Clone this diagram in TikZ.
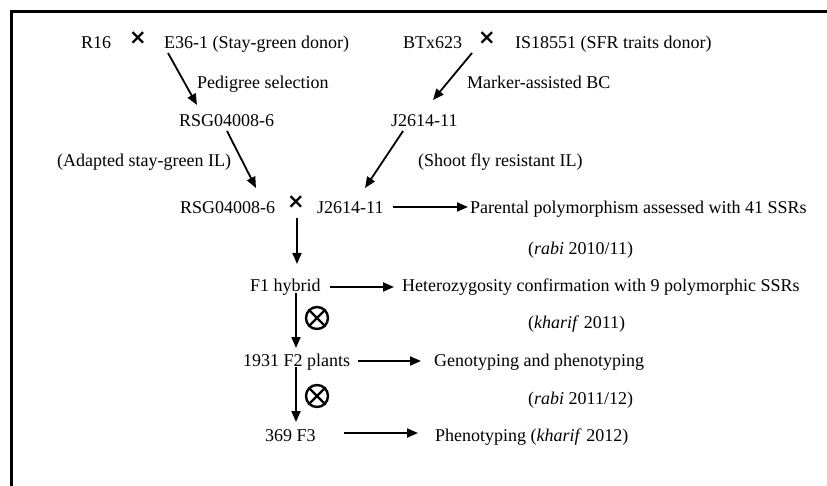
\documentclass[tikz,border=0pt]{standalone}
\usepackage{fontspec}
\setmainfont{Liberation Serif}
\newfontfamily\crossfont{DejaVu Sans}
\usetikzlibrary{arrows.meta}
\begin{document}
\begin{tikzpicture}[x=1pt,y=-1pt,
  txt/.style={anchor=base west, inner sep=0pt, font=\fontsize{18}{22}\selectfont},
  crossmark/.style={inner sep=0pt, font=\crossfont\bfseries\fontsize{21}{21}\selectfont},
  arr/.style={line width=1.8pt, -{Triangle[length=11pt,width=9pt]}},
  selfmark/.style={circle, draw, line width=2.4pt, minimum size=22pt, inner sep=0pt},
  frame/.style={line width=3pt}]
\useasboundingbox (0,0) rectangle (827,486);
\fill[white] (0,0) rectangle (827,486);
% frame
\coordinate (ftl) at (11,12);
\coordinate (ftr) at (827,12);
\coordinate (fbl) at (11,486);
\draw[frame] (ftr) -- (ftl) -- (fbl);
% row 1
\node[txt] (r16) at (81,48.5) {R16};
\node[crossmark] (x1) at (138,38) {×};
\node[txt] (e36) at (164,48.5) {E36-1 (Stay-green donor)};
\node[txt] (btx) at (403,48.5) {BTx623};
\node[crossmark] (x2) at (487,38) {×};
\node[txt] (is) at (515,48.5) {IS18551 (SFR traits donor)};
% row 2
\node[txt] (ped) at (197,88.5) {Pedigree selection};
\node[txt] (mab) at (467,88.5) {Marker-assisted BC};
% row 3
\node[txt] (rsg1) at (179,127) {RSG04008-6};
\node[txt] (j1) at (391,127) {J2614-11};
% row 4
\node[txt] (adap) at (57,166.5) {(Adapted stay-green IL)};
\node[txt] (sfr) at (418,166.5) {(Shoot fly resistant IL)};
% row 5
\node[txt] (rsg2) at (180,213.5) {RSG04008-6};
\node[crossmark] (x3) at (296,202) {×};
\node[txt] (j2) at (317,213.5) {J2614-11};
\node[txt] (poly) at (470,213.5) {Parental polymorphism assessed with 41 SSRs};
\node[txt] (s1) at (528,254.5) {(\textit{rabi} 2010/11)};
% F1
\node[txt] (f1) at (250,291.5) {F1 hybrid};
\node[txt] (het) at (402,291.5) {Heterozygosity confirmation with 9 polymorphic SSRs};
\node[txt] (s2) at (528,328.5) {(\textit{kharif} 2011)};
% F2
\node[txt] (f2) at (243,366.5) {1931 F2 plants};
\node[txt] (geno) at (434,366.5) {Genotyping and phenotyping};
\node[txt] (s3) at (528,404.5) {(\textit{rabi} 2011/12)};
% F3
\node[txt] (f3) at (265,441) {369 F3};
\node[txt] (pheno) at (435,441) {Phenotyping (\textit{kharif} 2012)};
% selfing marks
\node[selfmark] (o1) at (317,318) {};
\draw[line width=2.4pt] (o1.north west) -- (o1.south east) (o1.north east) -- (o1.south west);
\node[selfmark] (o2) at (317,396) {};
\draw[line width=2.4pt] (o2.north west) -- (o2.south east) (o2.north east) -- (o2.south west);
% arrow end points
\coordinate (a1s) at (168,53);  \coordinate (a1e) at (197,105);
\coordinate (a2s) at (472,53);  \coordinate (a2e) at (433,100);
\coordinate (a3s) at (227,131); \coordinate (a3e) at (256,188);
\coordinate (a4s) at (403,131); \coordinate (a4e) at (365,188);
\coordinate (a5s) at (393,207); \coordinate (a5e) at (468,207);
\coordinate (a6s) at (297,218); \coordinate (a6e) at (297,264);
\coordinate (a7s) at (330,287); \coordinate (a7e) at (394,287);
\coordinate (a8s) at (296,293); \coordinate (a8e) at (296,348);
\coordinate (a9s) at (358,361); \coordinate (a9e) at (421,361);
\coordinate (a10s) at (296,367); \coordinate (a10e) at (296,422);
\coordinate (a11s) at (344,433); \coordinate (a11e) at (418,433);
\foreach \i in {1,...,11} {\draw[arr] (a\i s) -- (a\i e);}
\end{tikzpicture}
\end{document}
